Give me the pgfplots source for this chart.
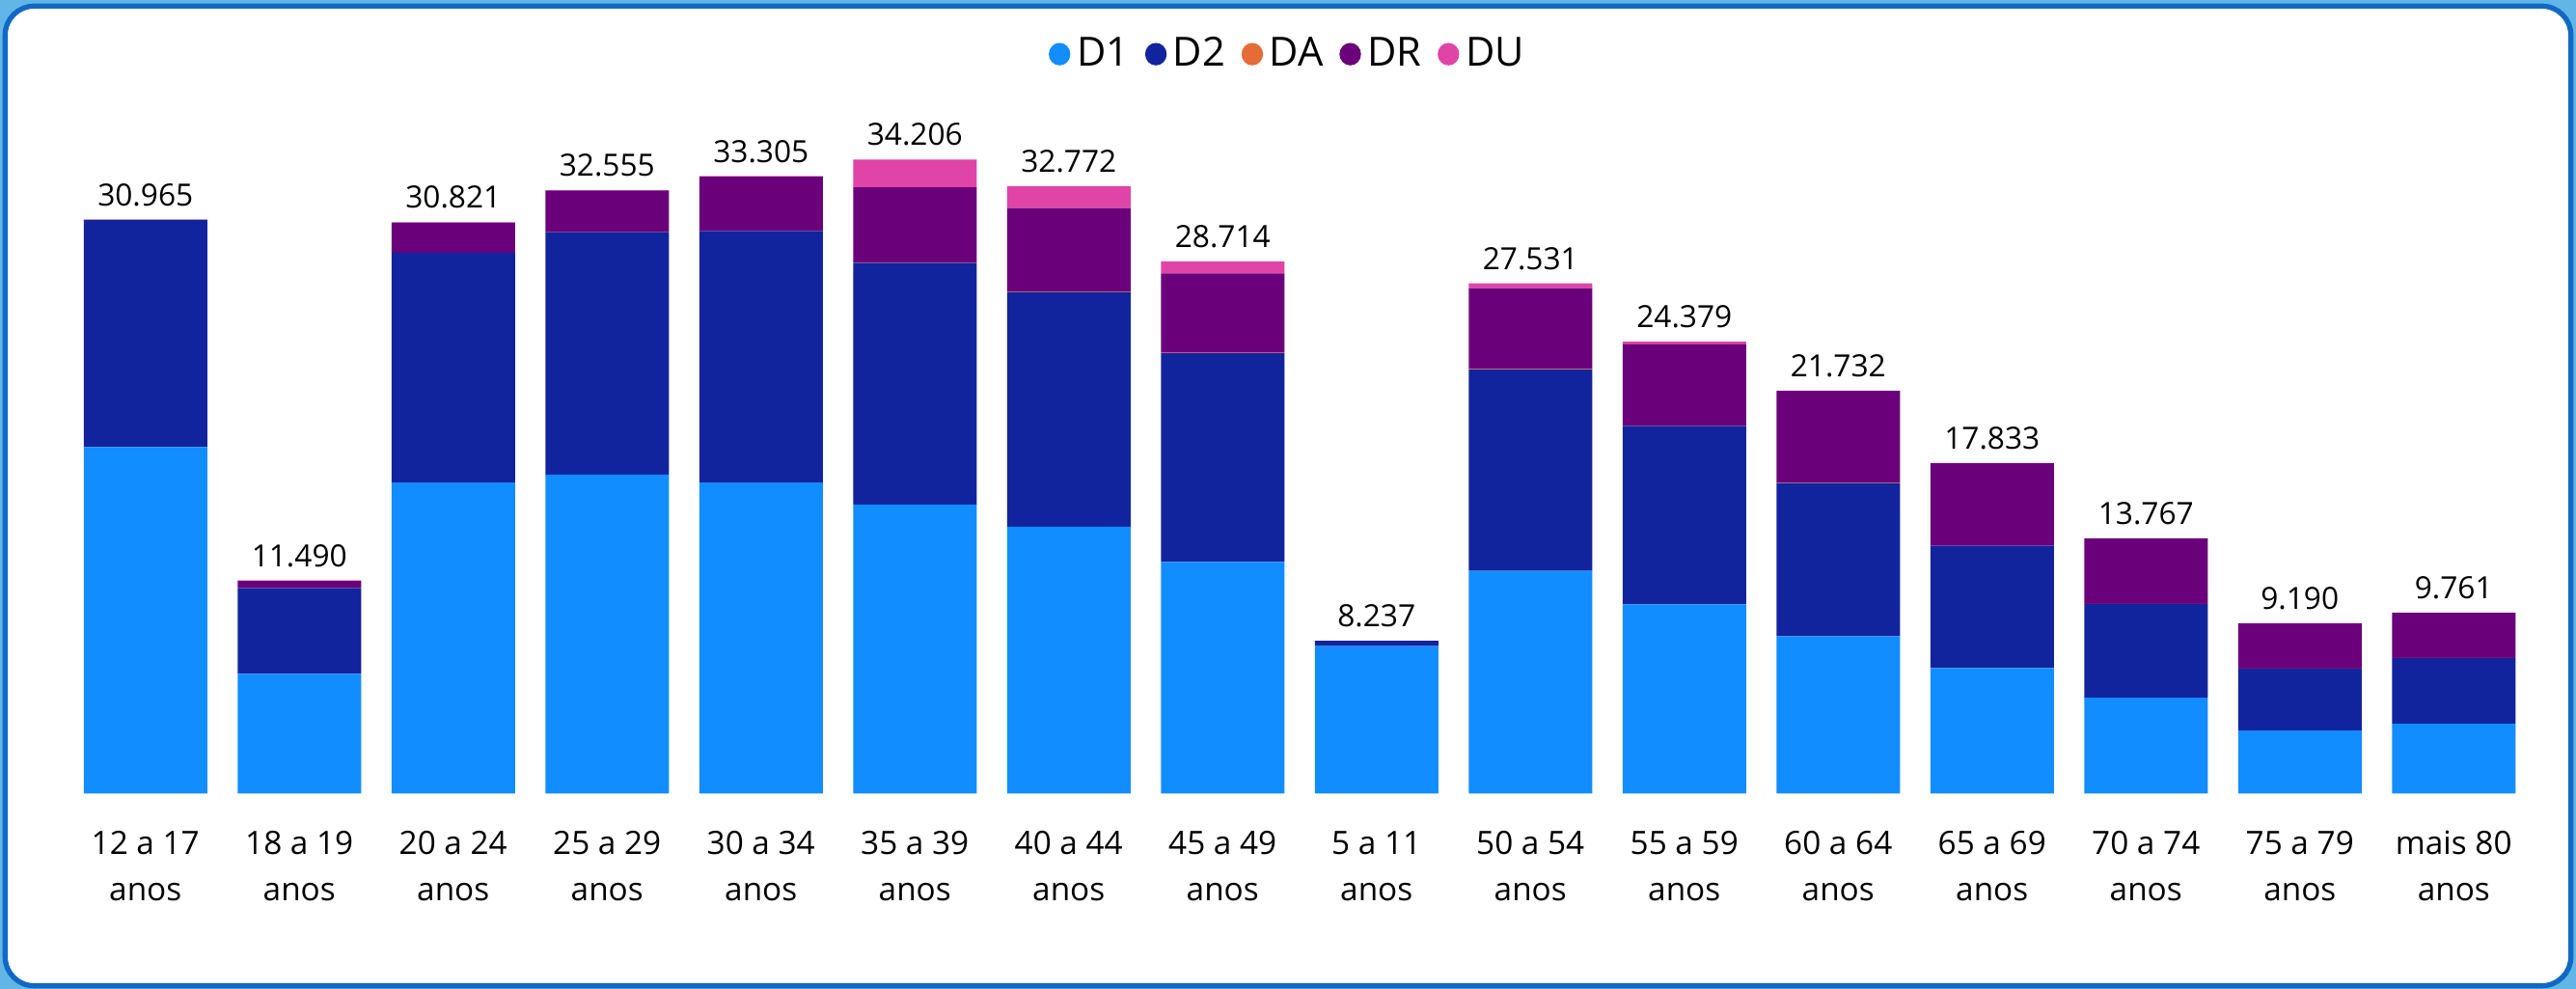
\documentclass[border=0pt]{standalone}
\usepackage{pgfplots}
\pgfplotsset{compat=1.18}
\usepackage{fontspec}
\setmainfont{Open Sans}
\definecolor{cD1}{HTML}{118DFF}
\definecolor{cD2}{HTML}{12239E}
\definecolor{cDA}{HTML}{E66C37}
\definecolor{cDR}{HTML}{6B007B}
\definecolor{cDU}{HTML}{E044A7}
\definecolor{cardborder}{HTML}{1268C4}
\definecolor{outerbg}{HTML}{62B6E6}
\pgfplotsset{common/.style={at={(21.3pt,60.75pt)}, anchor=south west,
  scale only axis, width=765.6pt, height=207.5pt,
  xmin=-0.5, xmax=15.5, ymin=0, ymax=36000}}
\begin{document}
\begin{tikzpicture}
\useasboundingbox (0,0) rectangle (801pt,307.5pt);
\fill[outerbg] (0,0) rectangle (801pt,307.5pt);
\fill[white,draw=cardborder,line width=1.6pt,rounded corners=9pt] (1.6pt,1.0pt) rectangle (799.4pt,305.6pt);
\begin{axis}[
  common,
  ybar stacked, bar width=38.4pt,
  axis line style={draw=none}, major tick length=0pt,
  ytick=\empty,
  xtick={0,...,15},
  xticklabels={{12 a 17\\anos},{18 a 19\\anos},{20 a 24\\anos},{25 a 29\\anos},{30 a 34\\anos},{35 a 39\\anos},{40 a 44\\anos},{45 a 49\\anos},{5 a 11\\anos},{50 a 54\\anos},{55 a 59\\anos},{60 a 64\\anos},{65 a 69\\anos},{70 a 74\\anos},{75 a 79\\anos},{mais 80\\anos}},
  xticklabel style={align=center, font=\fontsize{10}{14.4}\selectfont, anchor=north, inner sep=0pt, yshift=-11.5pt},
  legend style={draw=none, fill=none, legend columns=-1, font=\fontsize{12.5}{15}\selectfont, at={(0.496,1.108)}, anchor=center, /tikz/every even column/.append style={column sep=3pt}},
]
\addplot[fill=cD1, draw=none, legend image code/.code={\fill[cD1] (3.35pt,0pt) ellipse (3.35pt and 3.5pt);}] coordinates {(0,18690) (1,6461) (2,16783) (3,17212) (4,16783) (5,15591) (6,14399) (7,12492) (8,7955) (9,12015) (10,10204) (11,8487) (12,6771) (13,5173) (14,3400) (15,3767)};
\addlegendentry{D1}
\addplot[fill=cD2, draw=none, legend image code/.code={\fill[cD2] (3.35pt,0pt) ellipse (3.35pt and 3.5pt);}] coordinates {(0,12255) (1,4633) (2,12397) (3,13078) (4,13565) (5,13040) (6,12659) (7,11266) (8,282) (9,10871) (10,9631) (11,8272) (12,6604) (13,5054) (14,3330) (15,3540)};
\addlegendentry{D2}
\addplot[fill=cDA, draw=none, legend image code/.code={\fill[cDA] (3.35pt,0pt) ellipse (3.35pt and 3.5pt);}] coordinates {(0,0) (1,15) (2,0) (3,0) (4,0) (5,30) (6,30) (7,20) (8,0) (9,20) (10,15) (11,15) (12,0) (13,10) (14,10) (15,10)};
\addlegendentry{DA}
\addplot[fill=cDR, draw=none, legend image code/.code={\fill[cDR] (3.35pt,0pt) ellipse (3.35pt and 3.5pt);}] coordinates {(0,10) (1,376) (2,1626) (3,2250) (4,2942) (5,4043) (6,4500) (7,4280) (8,0) (9,4365) (10,4389) (11,4943) (12,4443) (13,3520) (14,2440) (15,2434)};
\addlegendentry{DR}
\addplot[fill=cDU, draw=none, legend image code/.code={\fill[cDU] (3.35pt,0pt) ellipse (3.35pt and 3.5pt);}] coordinates {(0,10) (1,5) (2,15) (3,15) (4,15) (5,1502) (6,1184) (7,656) (8,0) (9,260) (10,140) (11,15) (12,15) (13,10) (14,10) (15,10)};
\addlegendentry{DU}
\end{axis}
\begin{axis}[common, hide axis]
\addplot[draw=none, mark=none, nodes near coords, point meta=explicit symbolic,
  every node near coord/.style={font=\fontsize{9.5}{11}\selectfont, anchor=south, inner sep=0pt, yshift=4pt, text=black}]
  coordinates {(0,30965) [30.965] (1,11490) [11.490] (2,30821) [30.821] (3,32555) [32.555] (4,33305) [33.305] (5,34206) [34.206] (6,32772) [32.772] (7,28714) [28.714] (8,8237) [8.237] (9,27531) [27.531] (10,24379) [24.379] (11,21732) [21.732] (12,17833) [17.833] (13,13767) [13.767] (14,9190) [9.190] (15,9761) [9.761]};
\end{axis}
\end{tikzpicture}
\end{document}
